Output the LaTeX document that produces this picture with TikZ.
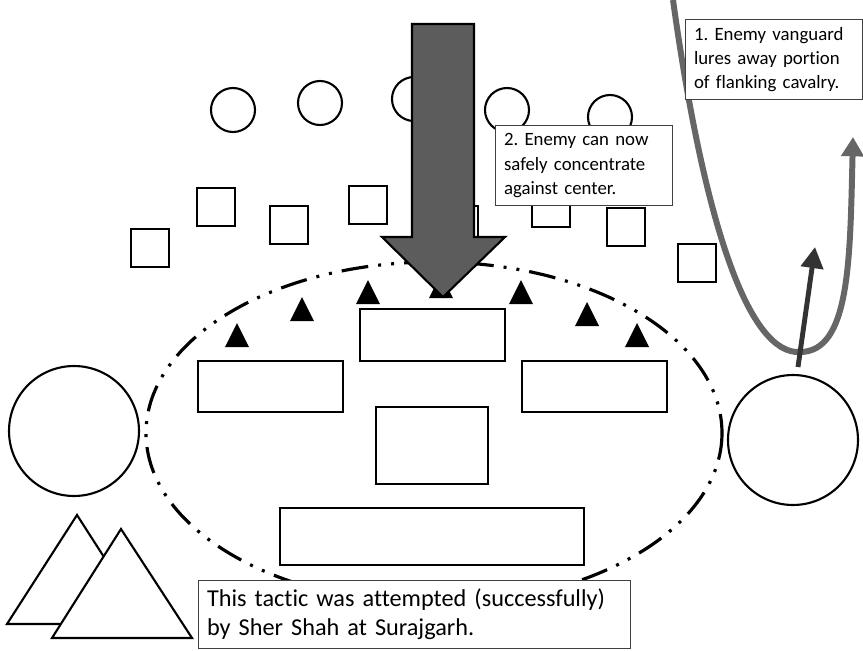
\documentclass[tikz,border=0pt]{standalone}
\usepackage{fontspec}
\setmainfont{Carlito}[Ligatures=NoCommon]
\frenchspacing
\usetikzlibrary{arrows.meta}
\definecolor{pushgray}{HTML}{5C5C5C}
\definecolor{luregray}{HTML}{666666}
\definecolor{raiddark}{HTML}{333333}
\tikzset{
  unit/.style={draw=black, line width=1.2pt, fill=white},
  gun/.style={fill=black},
  camp/.style={draw=black, line width=1.8pt, line cap=butt,
    dash pattern=on 15.3pt off 5.7pt on 1.7pt off 5.7pt on 1.7pt off 5.7pt},
  note/.style={draw=black!75, line width=0.6pt, fill=white, anchor=north west,
    align=left, inner xsep=0.17cm, inner ysep=0pt},
  smallnote/.style={note, text width=3.2cm, minimum height=1.6cm,
    font=\fontsize{10.7}{13.8}\selectfont},
}
\begin{document}
\begin{tikzpicture}[x=0.02cm, y=-0.02cm]
\useasboundingbox (0,0) rectangle (863,650);
% outer line of cavalry
\draw [unit] (233,110) circle (22);
\draw [unit] (320,103) circle (22);
\draw [unit] (414,99) circle (22);
\draw [unit] (507,110) circle (22);
\draw [unit] (610,117) circle (22);
% skirmishers
\draw [unit] (131,229) rectangle ++(38,38);
\draw [unit] (197,188) rectangle ++(38,38);
\draw [unit] (270,206) rectangle ++(38,38);
\draw [unit] (349,186) rectangle ++(38,38);
\draw [unit] (440,206) rectangle ++(38,38);
\draw [unit] (532,189) rectangle ++(38,38);
\draw [unit] (607,208) rectangle ++(38,38);
\draw [unit] (678,244) rectangle ++(38,38);
% guns along the front
\fill [gun] (237,323) -- ++(-12,24) -- ++(24,0) -- cycle;
\fill [gun] (302,297) -- ++(-12,24) -- ++(24,0) -- cycle;
\fill [gun] (368,280) -- ++(-12,24) -- ++(24,0) -- cycle;
\fill [gun] (441,274) -- ++(-12,24) -- ++(24,0) -- cycle;
\fill [gun] (521,280) -- ++(-12,24) -- ++(24,0) -- cycle;
\fill [gun] (587,302) -- ++(-12,24) -- ++(24,0) -- cycle;
\fill [gun] (637,323) -- ++(-12,24) -- ++(24,0) -- cycle;
% fortified camp
\draw [camp] (434,433) ellipse [x radius=288, y radius=171];
\draw [unit] (360,309) rectangle (505,361);
\draw [unit] (198,361) rectangle (343,412);
\draw [unit] (522,361) rectangle (667,412);
\draw [unit] (376,407) rectangle (488,484);
\draw [unit] (280,508) rectangle (584,565);
% enemy main thrust
\draw [draw=black, line width=1.2pt, fill=pushgray]
  (412,24) -- (474,24) -- (474,237) -- (505,237) -- (443,297)
  -- (382,237) -- (412,237) -- cycle;
\node [smallnote] (concNote) at (495,125)
  {2. Enemy can now\\safely concentrate\\against center.};
% lure of the flank
\coordinate (lureStart) at (673,0);
\coordinate (lureEnd) at (853,137);
\draw [luregray, line width=3.4pt, -{Triangle[length=11pt, width=12.5pt]}]
  (lureStart) .. controls (705,230) and (750,355) .. (800,352)
  .. controls (850,352) and (850,260) .. (lureEnd);
\node [smallnote] (lureNote) at (685,19)
  {1. Enemy vanguard\\lures away portion\\of flanking cavalry.};
% flanking cavalry
\node [unit, circle, minimum size=2.6cm, inner sep=0pt] (cavL) at (74,431) {};
\node [unit, circle, minimum size=2.6cm, inner sep=0pt] (cavR) at (793,440) {};
\coordinate (raidStart) at (798,367);
\coordinate (raidEnd) at (815,247);
\draw [raiddark, line width=2.8pt, -{Triangle[length=12pt, width=12.5pt]}]
  (raidStart) -- (raidEnd);
% reserves
\draw [unit] (77,515) -- (147,624) -- (7,624) -- cycle;
\draw [unit] (121,529) -- (192,638) -- (52,638) -- cycle;
\node [note, text width=8.3cm, minimum height=1.36cm,
  font=\fontsize{13.8}{16.6}\selectfont] (tacticNote) at (198,580)
  {This tactic was attempted (successfully)\\by Sher Shah at Surajgarh.};
\end{tikzpicture}
\end{document}
